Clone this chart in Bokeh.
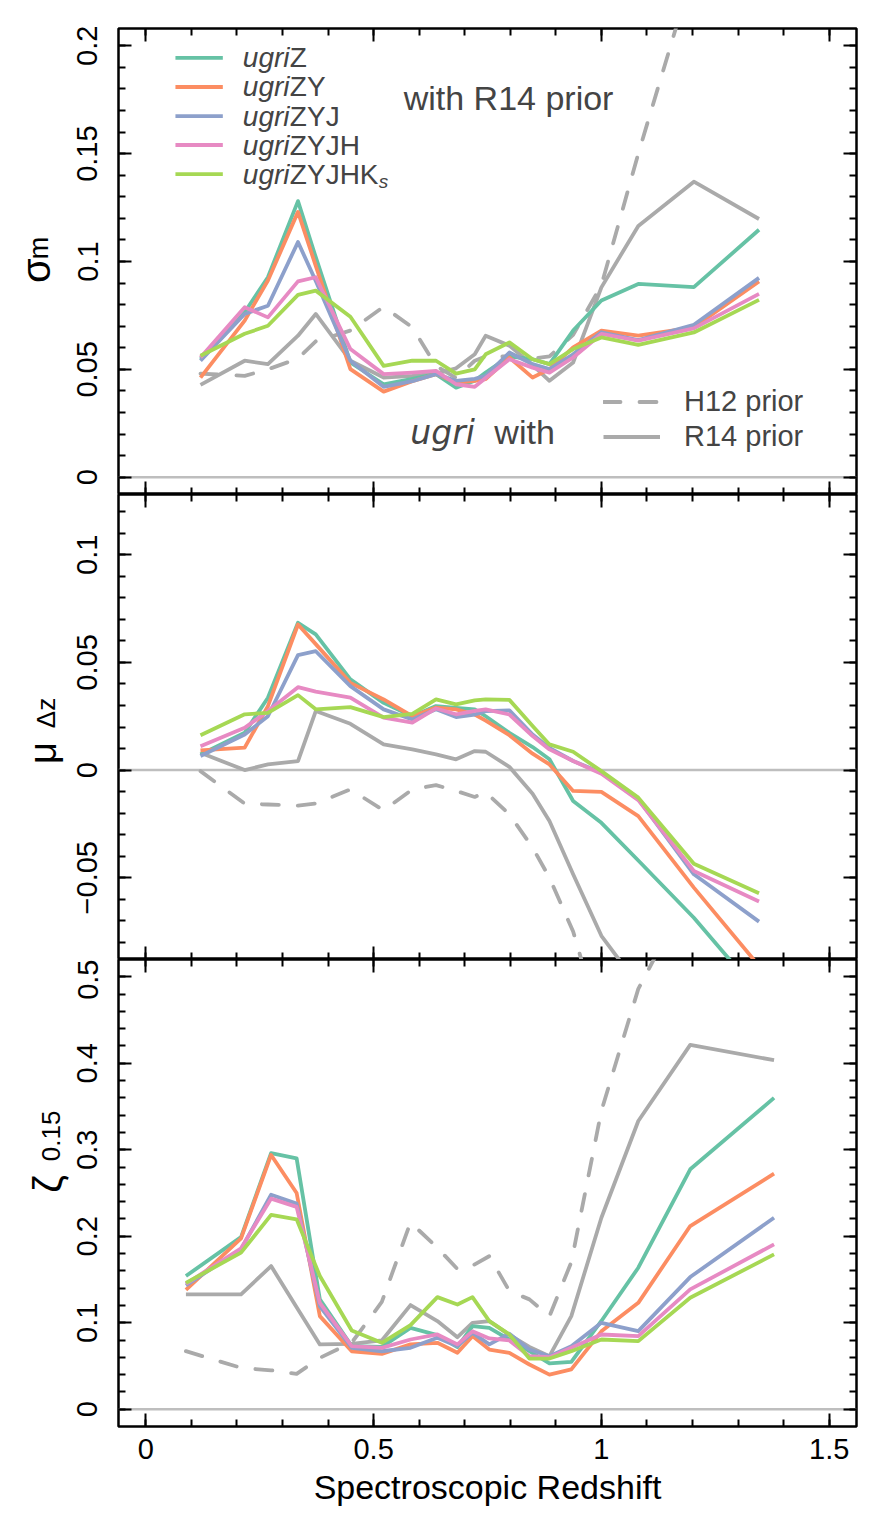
import math
from bokeh.plotting import figure
from bokeh.layouts import column
from bokeh.models import (Range1d, LinearAxis, FixedTicker, CustomJSTickFormatter,
                          Span, Label, BoxAnnotation, Legend, LegendItem)
from bokeh.embed import file_html
from bokeh.resources import INLINE

# ---------------- data ----------------
# mean spectroscopic redshift of each bin (sigma and mu panels)
z_mean = [0.120, 0.217, 0.268, 0.334, 0.373, 0.449, 0.522, 0.585, 0.637, 0.681,
          0.722, 0.746, 0.798, 0.849, 0.886, 0.938, 1.000, 1.081, 1.203, 1.346]
# bin positions used for the outlier-fraction panel
z_bin = [0.088, 0.209, 0.275, 0.331, 0.382, 0.452, 0.518, 0.581, 0.640, 0.684,
         0.717, 0.754, 0.798, 0.842, 0.886, 0.934, 1.000, 1.081, 1.195, 1.379]

band_sets = ["ugriZ", "ugriZY", "ugriZYJ", "ugriZYJH", "ugriZYJHKs"]
band_suffix = ["Z", "ZY", "ZYJ", "ZYJH", "ZYJHK"]
band_colors = ["#66C2A5", "#FC8D62", "#8DA0CB", "#E78AC3", "#A6D854"]

# sigma_m
sigma_ugriZ = [0.0547, 0.0765, 0.0927, 0.1280, 0.1020, 0.0532, 0.0431, 0.0456, 0.0478, 0.0415,
               0.0447, 0.0485, 0.0560, 0.0547, 0.0524, 0.0680, 0.0819, 0.0896, 0.0881, 0.1147]
sigma_ugriZY = [0.0462, 0.0726, 0.0912, 0.1230, 0.0980, 0.0501, 0.0397, 0.0445, 0.0478, 0.0439,
                0.0447, 0.0455, 0.0555, 0.0462, 0.0501, 0.0602, 0.0680, 0.0656, 0.0695, 0.0908]
sigma_ugriZYJ = [0.0540, 0.0757, 0.0795, 0.1090, 0.0910, 0.0540, 0.0419, 0.0445, 0.0478, 0.0447,
                 0.0456, 0.0470, 0.0578, 0.0524, 0.0501, 0.0570, 0.0672, 0.0636, 0.0707, 0.0924]
sigma_ugriZYJH = [0.0555, 0.0788, 0.0741, 0.0908, 0.0927, 0.0594, 0.0478, 0.0485, 0.0493, 0.0431,
                  0.0419, 0.0460, 0.0547, 0.0508, 0.0485, 0.0555, 0.0664, 0.0633, 0.0690, 0.0850]
sigma_ugriZYJHKs = [0.0563, 0.0665, 0.0702, 0.0845, 0.0865, 0.0744, 0.0516, 0.0540, 0.0540, 0.0480,
                    0.0500, 0.0570, 0.0625, 0.0547, 0.0524, 0.0594, 0.0648, 0.0614, 0.0671, 0.0822]
sigma_ugri_h12 = [0.048, 0.047, 0.050, 0.055, 0.063, 0.068, 0.079, 0.0695, 0.0516, 0.046,
                  0.054, 0.056, 0.056, 0.055, 0.056, 0.066, 0.089, 0.150, 0.236, 0.300]
sigma_ugri_r14 = [0.0428, 0.0540, 0.0524, 0.0656, 0.0757, 0.0540, 0.0462, 0.0470, 0.0480, 0.0505,
                  0.0570, 0.0656, 0.0610, 0.0520, 0.0447, 0.0532, 0.0880, 0.1165, 0.1370, 0.1197]

# mu_dz
mu_ugriZ = [0.0073, 0.0173, 0.0336, 0.0684, 0.0630, 0.0421, 0.0312, 0.0250, 0.0297, 0.0289,
            0.0282, 0.0250, 0.0173, 0.0107, 0.0050, -0.0144, -0.0245, -0.0420, -0.0686, -0.1040]
mu_ugriZY = [0.0091, 0.0104, 0.0297, 0.0676, 0.0585, 0.0405, 0.0328, 0.0250, 0.0290, 0.0282,
             0.0258, 0.0230, 0.0162, 0.0076, 0.0026, -0.0097, -0.0101, -0.0214, -0.0546, -0.0910]
mu_ugriZYJ = [0.0065, 0.0165, 0.0250, 0.0534, 0.0552, 0.0390, 0.0282, 0.0235, 0.0282, 0.0246,
              0.0258, 0.0274, 0.0277, 0.0165, 0.0103, 0.0042, -0.0012, -0.0135, -0.0484, -0.0704]
mu_ugriZYJH = [0.0111, 0.0196, 0.0274, 0.0385, 0.0364, 0.0336, 0.0243, 0.0220, 0.0286, 0.0259,
               0.0275, 0.0282, 0.0258, 0.0158, 0.0096, 0.0042, -0.0017, -0.0140, -0.0469, -0.0611]
mu_ugriZYJHKs = [0.0162, 0.0259, 0.0266, 0.0348, 0.0282, 0.0292, 0.0246, 0.0261, 0.0328, 0.0305,
                 0.0324, 0.0328, 0.0326, 0.0205, 0.0119, 0.0085, -0.0005, -0.0128, -0.0435, -0.0572]
mu_ugri_h12 = [-0.0005, -0.0156, -0.0160, -0.0165, -0.0155, -0.0090, -0.0187, -0.0090, -0.0070, -0.0097,
               -0.0125, -0.0103, -0.0206, -0.0360, -0.0500, -0.0750, -0.1200, -0.1600, -0.2000, -0.2500]
mu_ugri_r14 = [0.0080, 0.0000, 0.0026, 0.0042, 0.0274, 0.0215, 0.0119, 0.0096, 0.0073, 0.0050,
               0.0088, 0.0085, 0.0015, -0.0110, -0.0237, -0.0484, -0.0770, -0.1000, -0.1500, -0.1700]

# zeta_0.15
zeta_ugriZ = [0.154, 0.199, 0.296, 0.290, 0.127, 0.0729, 0.072, 0.094, 0.0856, 0.0718,
              0.096, 0.094, 0.0806, 0.0671, 0.0529, 0.0548, 0.102, 0.1636, 0.2774, 0.360]
zeta_ugriZY = [0.138, 0.1975, 0.294, 0.250, 0.1076, 0.067, 0.064, 0.0749, 0.0768, 0.0652,
               0.0845, 0.069, 0.0652, 0.0517, 0.040, 0.046, 0.090, 0.123, 0.2118, 0.2724]
zeta_ugriZYJ = [0.143, 0.185, 0.248, 0.2377, 0.119, 0.071, 0.067, 0.071, 0.0826, 0.0729,
                0.0883, 0.075, 0.0872, 0.069, 0.0613, 0.0729, 0.0999, 0.0903, 0.1528, 0.2214]
zeta_ugriZYJH = [0.145, 0.186, 0.2435, 0.234, 0.123, 0.0729, 0.071, 0.0806, 0.0864, 0.075,
                 0.090, 0.0818, 0.0795, 0.0613, 0.0602, 0.071, 0.0864, 0.0845, 0.1385, 0.1906]
zeta_ugriZYJHKs = [0.146, 0.181, 0.2247, 0.2195, 0.154, 0.091, 0.0768, 0.0972, 0.1296, 0.121,
                   0.1296, 0.1019, 0.0864, 0.0586, 0.0586, 0.0671, 0.0806, 0.0787, 0.1289, 0.179]
zeta_ugri_h12 = [0.0671, 0.0478, 0.045, 0.0409, 0.0594, 0.077, 0.124, 0.216, 0.1867, 0.162,
                 0.166, 0.177, 0.1366, 0.127, 0.1076, 0.170, 0.345, 0.486, 0.600, 0.650]
zeta_ugri_r14 = [0.1327, 0.1327, 0.1655, 0.118, 0.0749, 0.0756, 0.0795, 0.1204, 0.1019, 0.0833,
                 0.0999, 0.1019, 0.086, 0.072, 0.0613, 0.1076, 0.2214, 0.3333, 0.4213, 0.4036]

x_major = [0, 0.5, 1, 1.5]

# ---------------- styling ----------------
FONT = "Liberation Sans"
GRAY = "#AAAAAA"
ZERO_GRAY = "#BEBEBE"
LW = 3.8

x_range = Range1d(-0.06, 1.56)

tick_fmt = CustomJSTickFormatter(code="""
    const s = String(Math.round(tick * 1000) / 1000);
    return s.replace('-', '\\u2212');
""")
blank_fmt = CustomJSTickFormatter(code="return '';")


def steps(a, b, step):
    n = int(round((b - a) / step))
    return [round(a + i * step, 6) for i in range(n + 1)]


def make_panel(height, yr, y_major, y_minor, top, bottom, x_labels=False):
    p = figure(width=880, height=height, x_range=x_range, y_range=Range1d(*yr),
               output_backend="svg", toolbar_location=None,
               x_axis_location=None, y_axis_location=None,
               min_border_left=117, min_border_right=24,
               min_border_top=top, min_border_bottom=bottom)
    p.xgrid.visible = False
    p.ygrid.visible = False
    p.outline_line_color = "black"
    p.outline_line_width = 2.5
    p.background_fill_color = "white"
    p.border_fill_color = "white"
    for side in ("left", "right", "above", "below"):
        if side in ("left", "right"):
            tk = FixedTicker(ticks=y_major, minor_ticks=y_minor)
        else:
            tk = FixedTicker(ticks=x_major, minor_ticks=steps(0, 1.5, 0.1))
        show = side == "left" or (side == "below" and x_labels)
        ax = LinearAxis(ticker=tk, formatter=tick_fmt if show else blank_fmt,
                        axis_line_color=None,
                        major_tick_in=13, major_tick_out=0,
                        minor_tick_in=7, minor_tick_out=0,
                        major_tick_line_width=2, minor_tick_line_width=2,
                        major_tick_line_color="black", minor_tick_line_color="black",
                        major_label_text_font=FONT, major_label_text_color="black",
                        major_label_text_font_size="29px" if show else "1px",
                        major_label_standoff=21 if show else 0)
        if side == "left":
            ax.major_label_orientation = "vertical"
        if side == "below" and x_labels:
            ax.major_label_standoff = 12
            ax.axis_label = "Spectroscopic Redshift"
            ax.axis_label_text_font = FONT
            ax.axis_label_text_color = "black"
            ax.axis_label_text_font_size = "34px"
            ax.axis_label_text_font_style = "normal"
            ax.axis_label_standoff = 6
        p.add_layout(ax, side)
    p.add_layout(Span(location=0, dimension="width", line_color=ZERO_GRAY,
                      line_width=2.5, level="underlay"))
    return p


def draw_series(p, xs, h12, r14, series):
    rh = p.line(xs, h12, line_color=GRAY, line_width=LW, line_dash="17 19",
                line_join="round", line_cap="round")
    rr = p.line(xs, r14, line_color=GRAY, line_width=LW, line_join="round")
    for ys, c in zip(series, band_colors):
        p.line(xs, ys, line_color=c, line_width=LW, line_join="round")
    return rh, rr


def axis_title(p, main, sub, xm, ym, xs, ys, main_size="40px", sub_size="27px"):
    # rotated symbol + subscript, placed in the left margin
    p.add_layout(Label(x=xm, y=ym, text=main, angle=math.pi / 2,
                       text_align="center", text_baseline="alphabetic",
                       text_font=FONT, text_font_size=main_size, text_color="black"), "left")
    p.add_layout(Label(x=xs, y=ys, text=sub, angle=math.pi / 2,
                       text_align="center", text_baseline="alphabetic",
                       text_font=FONT, text_font_size=sub_size, text_color="black"), "left")


# ---------------- sigma_m panel ----------------
p1 = make_panel(494, (-0.008, 0.208), [0, 0.05, 0.1, 0.15, 0.2], steps(0, 0.2, 0.01), 28, 0)
r_h12, r_r14 = draw_series(p1, z_mean, sigma_ugri_h12, sigma_ugri_r14,
                           [sigma_ugriZ, sigma_ugriZY, sigma_ugriZYJ, sigma_ugriZYJH, sigma_ugriZYJHKs])
axis_title(p1, "σ", "m", -0.2415, 0.0958, -0.2335, 0.1062)

# colour key for the filter sets
rows_y = [0.1944, 0.1809, 0.1674, 0.1540, 0.1405]
for yk, suf, col in zip(rows_y, band_suffix, band_colors):
    p1.add_layout(BoxAnnotation(left=0.065, right=0.169, bottom=yk - 0.0009, top=yk + 0.0009,
                                fill_color=col, fill_alpha=1, line_color=None, level="overlay"))
    p1.add_layout(Label(x=0.213, y=yk, text="ugri", text_font=FONT, text_font_size="28px",
                        text_font_style="italic", text_baseline="middle"))
    p1.add_layout(Label(x=0.213, y=yk, x_offset=47, text=suf, text_font=FONT,
                        text_font_size="28px", text_baseline="middle"))
p1.add_layout(Label(x=0.213, y=rows_y[-1], x_offset=136, y_offset=-7, text="s", text_font=FONT,
                    text_font_size="19px", text_font_style="italic", text_baseline="middle"))

p1.add_layout(Label(x=0.566, y=0.1758, text="with R14 prior", text_font=FONT,
                    text_font_size="34px", text_baseline="alphabetic"))
p1.add_layout(Label(x=0.5806, y=0.0209, text="ugri", text_font="DejaVu Sans",
                    text_font_size="33px", text_font_style="italic", text_baseline="alphabetic"))
p1.add_layout(Label(x=0.765, y=0.0209, text="with", text_font=FONT,
                    text_font_size="34px", text_baseline="alphabetic"))

prior_key = Legend(items=[LegendItem(label="H12 prior", renderers=[r_h12]),
                          LegendItem(label="R14 prior", renderers=[r_r14])],
                   location=(485, 40), orientation="vertical",
                   glyph_width=57, glyph_height=35, label_height=35, label_standoff=24,
                   spacing=0, padding=0, margin=0, border_line_color=None,
                   background_fill_alpha=0, label_text_font=FONT, label_text_font_size="29px")
p1.add_layout(prior_key)

# ---------------- mu_dz panel ----------------
p2 = make_panel(465, (-0.088, 0.128), [-0.05, 0, 0.05, 0.1], steps(-0.08, 0.12, 0.01), 0, 0)
draw_series(p2, z_mean, mu_ugri_h12, mu_ugri_r14,
            [mu_ugriZ, mu_ugriZY, mu_ugriZYJ, mu_ugriZYJH, mu_ugriZYJHKs])
axis_title(p2, "μ", "Δz", -0.2265, 0.0079, -0.2185, 0.0265, main_size="38px", sub_size="26px")

# ---------------- zeta_0.15 panel ----------------
p3 = make_panel(581, (-0.02, 0.52), [0, 0.1, 0.2, 0.3, 0.4, 0.5], steps(0, 0.5, 0.02), 0, 114,
                x_labels=True)
draw_series(p3, z_bin, zeta_ugri_h12, zeta_ugri_r14,
            [zeta_ugriZ, zeta_ugriZY, zeta_ugriZYJ, zeta_ugriZYJH, zeta_ugriZYJHKs])
axis_title(p3, "ζ", "0.15", -0.2155, 0.2604, -0.2075, 0.316, main_size="40px", sub_size="26px")

layout = column(p1, p2, p3, spacing=0)
open("out.html", "w").write(file_html(layout, INLINE))
